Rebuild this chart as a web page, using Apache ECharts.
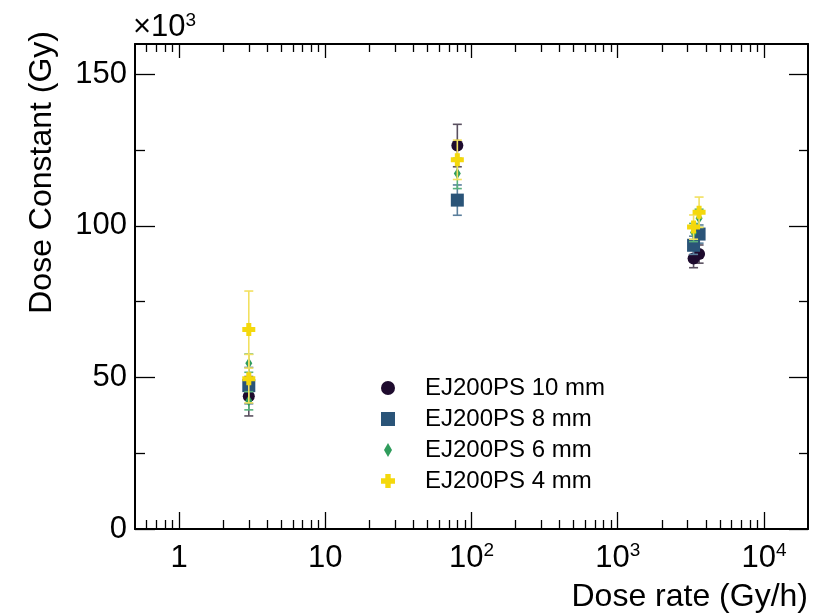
<!DOCTYPE html>
<html><head><meta charset="utf-8">
<script src="https://cdn.jsdelivr.net/npm/echarts@6/dist/echarts.min.js"></script>
<style>html,body{margin:0;padding:0;background:#fff}#c{width:828px;height:614px}</style>
</head><body><div id="c"></div>
<script>
// ---- data ----
const seriesNames = ['EJ200PS 10 mm', 'EJ200PS 8 mm', 'EJ200PS 6 mm', 'EJ200PS 4 mm'];
const rate10 = [3, 80, 3300, 3600];
const val10  = [43.8, 126.5, 89.2, 90.7];
const err10  = [6.5, 7.0, 3.0, 3.0];
const rate8  = [3, 80, 3300, 3600];
const val8   = [47.3, 108.5, 93.6, 97.3];
const err8   = [6.0, 5.0, 3.0, 3.0];
const rate6  = [3, 3, 80, 3300, 3600];
const val6   = [54.7, 42.3, 117.3, 97.8, 102.5];
const err6   = [3.0, 3.0, 5.0, 3.0, 3.0];
const rate4  = [3, 3, 80, 3300, 3600];
const val4   = [65.8, 49.6, 121.8, 99.6, 104.5];
const err4   = [12.7, 8.0, 6.5, 4.0, 5.0];
const xMajorTicks = [1, 10, 100, 1000, 10000];
const xMinorTicks = [0.6, 0.7, 0.8, 0.9,
  2, 3, 4, 5, 6, 7, 8, 9,
  20, 30, 40, 50, 60, 70, 80, 90,
  200, 300, 400, 500, 600, 700, 800, 900,
  2000, 3000, 4000, 5000, 6000, 7000, 8000, 9000];
const yMajorTicks = [0, 50, 100, 150];
const yMinorTicks = [25, 75, 125];

// ---- style ----
const FONT = 'Liberation Sans, Arial, Helvetica, sans-serif';
const colors = ['#1e0b2e', '#2a5478', '#2f9c5c', '#f4d80c'];
const errColors = ['#5a5060', '#5b7f9c', '#58b07c', '#f2e060'];
const symbols = ['circle', 'rect', 'diamond', 'path://M4,0 H9 V4 H13 V9 H9 V13 H4 V9 H0 V4 H4 Z'];
const symbolSizes = [12, 13, [7, 11], 13];
const legendIcons = [
  'path://M6,0 A6,6 0 1,1 6,12 A6,6 0 1,1 6,0 Z',
  'path://M0,0 H14 V14 H0 Z',
  'path://M4,0 L8,7 L4,14 L0,7 Z',
  'path://M4,0 H9 V4 H13 V9 H9 V13 H4 V9 H0 V4 H4 Z'
];
const rates = [rate10, rate8, rate6, rate4];
const vals = [val10, val8, val6, val4];
const errs = [err10, err8, err6, err4];

function supFmt(v) {
  if (v === 1) return '{b|1}';
  if (v === 10) return '{b|10}';
  const e = Math.round(Math.log10(v));
  return '{b|10}{s|' + e + '}';
}
const richSup = {
  b: {fontSize: 31, fontFamily: FONT, color: '#000', lineHeight: 34},
  s: {fontSize: 19, fontFamily: FONT, color: '#000', verticalAlign: 'top', lineHeight: 18}
};

function xAx(pos, ticks, len, labels) {
  return {
    type: 'log', min: 0.5, max: 20000, position: pos, gridIndex: 0,
    axisLine: {show: !!labels || (pos === 'top' && len > 10), onZero: false, lineStyle: {color: '#000', width: 2}},
    axisTick: {show: true, inside: true, length: len, customValues: ticks, lineStyle: {color: '#000', width: 1.3}},
    axisLabel: labels ? {show: true, customValues: xMajorTicks, formatter: supFmt, rich: richSup, margin: 12} : {show: false},
    splitLine: {show: false}, minorTick: {show: false}
  };
}
function yAx(pos, ticks, len, labels) {
  return {
    type: 'value', min: 0, max: 160, position: pos, gridIndex: 0,
    axisLine: {show: len > 10, onZero: false, lineStyle: {color: '#000', width: 2}},
    axisTick: {show: true, inside: true, length: len, customValues: ticks, lineStyle: {color: '#000', width: 1.3}},
    axisLabel: labels ? {show: true, customValues: yMajorTicks, fontSize: 31, fontFamily: FONT, color: '#000', margin: 8} : {show: false},
    splitLine: {show: false}, minorTick: {show: false}
  };
}

const series = [];
for (let k = 0; k < 4; k++) {
  const ec = errColors[k];
  series.push({
    type: 'custom', name: seriesNames[k] + ' err', xAxisIndex: 0, yAxisIndex: 0,
    z: 2 + 2 * k, silent: true,
    data: rates[k].map((r, i) => [r, vals[k][i] - errs[k][i], vals[k][i] + errs[k][i]]),
    encode: {x: 0, y: [1, 2]},
    renderItem: function (params, api) {
      const lo = api.coord([api.value(0), api.value(1)]);
      const hi = api.coord([api.value(0), api.value(2)]);
      const w = 4.5;
      const st = {stroke: ec, lineWidth: 1.6};
      return {type: 'group', children: [
        {type: 'line', shape: {x1: lo[0], y1: lo[1], x2: hi[0], y2: hi[1]}, style: st},
        {type: 'line', shape: {x1: lo[0] - w, y1: lo[1], x2: lo[0] + w, y2: lo[1]}, style: st},
        {type: 'line', shape: {x1: hi[0] - w, y1: hi[1], x2: hi[0] + w, y2: hi[1]}, style: st}
      ]};
    }
  });
  series.push({
    type: 'scatter', name: seriesNames[k], xAxisIndex: 0, yAxisIndex: 0,
    z: 3 + 2 * k,
    symbol: symbols[k], symbolSize: symbolSizes[k],
    itemStyle: {color: colors[k], opacity: 1},
    data: rates[k].map((r, i) => [r, vals[k][i]])
  });
}

const chart = echarts.init(document.getElementById('c'), null, {renderer: 'canvas'});
chart.setOption({
  backgroundColor: '#fff',
  animation: false,
  grid: {left: 135, right: 20, top: 44, bottom: 85},
  xAxis: [
    xAx('bottom', xMajorTicks, 17, true),
    xAx('bottom', xMinorTicks, 9, false),
    xAx('top', xMajorTicks, 14, false),
    xAx('top', xMinorTicks, 8, false)
  ],
  yAxis: [
    yAx('left', yMajorTicks, 20, true),
    yAx('left', yMinorTicks, 10, false),
    yAx('right', yMajorTicks, 19, false),
    yAx('right', yMinorTicks, 9, false)
  ],
  legend: {
    orient: 'vertical', left: 381, top: 376, padding: 0,
    itemWidth: 64, itemHeight: 14, itemGap: 7,
    symbolKeepAspect: true,
    textStyle: {fontSize: 24, fontFamily: FONT, color: '#000', lineHeight: 20},
    data: seriesNames.map((n, k) => ({name: n, icon: legendIcons[k], itemStyle: {color: colors[k]}}))
  },
  graphic: [
    {type: 'text', x: 808, y: 597, style: {text: 'Dose rate (Gy/h)', font: '32px ' + FONT, fill: '#000', align: 'right', verticalAlign: 'middle'}},
    {type: 'text', x: 42, y: 31, rotation: Math.PI / 2, style: {text: 'Dose Constant (Gy)', font: '32px ' + FONT, fill: '#000', align: 'right', verticalAlign: 'middle'}},
    {type: 'text', x: 133, y: 27, style: {
      text: '{b|×10}{s|3}', fill: '#000', align: 'left', verticalAlign: 'middle',
      rich: {b: {fontSize: 31, fontFamily: FONT, lineHeight: 32}, s: {fontSize: 19, fontFamily: FONT, verticalAlign: 'top', lineHeight: 18}}
    }}
  ],
  series: series
});
</script>
</body></html>
